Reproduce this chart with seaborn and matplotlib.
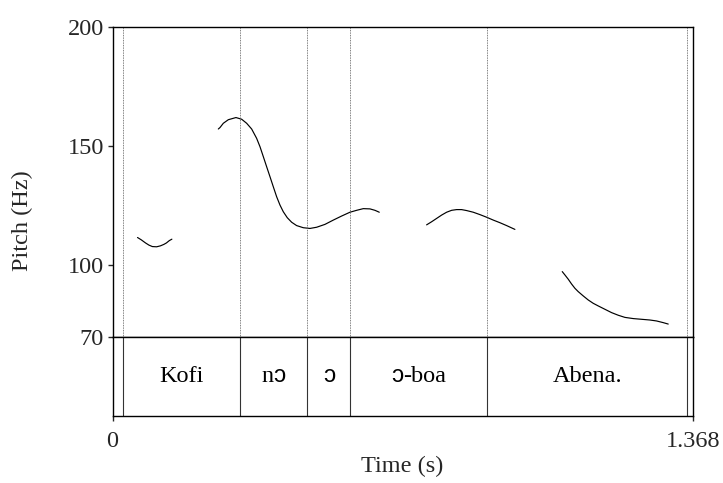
import matplotlib
matplotlib.use("Agg")
import matplotlib.pyplot as plt
from matplotlib.offsetbox import TextArea, HPacker, AnnotationBbox
import seaborn as sns
import pandas as pd

# Pitch track (time in s, F0 in Hz), one list pair per voiced stretch
seg1_t = [0.059, 0.068, 0.078, 0.086, 0.094, 0.104, 0.113, 0.121, 0.127, 0.134, 0.140]
seg1_hz = [111.6, 110.6, 109.3, 108.4, 107.8, 107.7, 108.1, 108.7, 109.3, 110.3, 110.9]

seg2_t = [0.2495, 0.2534, 0.2613, 0.2731, 0.2911, 0.3045, 0.3163, 0.3281, 0.3398,
          0.3477, 0.3556, 0.3634, 0.3713, 0.3791, 0.3870, 0.3949, 0.4027, 0.4121,
          0.4224, 0.4341, 0.4499, 0.4656, 0.4813, 0.5009, 0.5206, 0.5402, 0.5599,
          0.5756, 0.5913, 0.6070, 0.6188, 0.6290]
seg2_hz = [157.1, 157.7, 159.5, 161.0, 161.9, 161.2, 159.5, 157.1, 153.2,
           149.7, 145.5, 141.3, 137.1, 132.9, 128.7, 125.2, 122.4, 119.9,
           118.0, 116.6, 115.7, 115.4, 115.9, 117.1, 118.9, 120.6, 122.2,
           123.0, 123.7, 123.6, 123.0, 122.2]

seg3_t = [0.7406, 0.7524, 0.7642, 0.7760, 0.7878, 0.7996, 0.8113, 0.8231,
          0.8349, 0.8506, 0.8663, 0.8821, 0.8978, 0.9135, 0.9292, 0.9488]
seg3_hz = [116.9, 118.2, 119.6, 121.0, 122.2, 123.0, 123.3, 123.3,
           122.9, 122.2, 121.2, 120.1, 118.9, 117.8, 116.6, 115.0]

seg4_t = [1.0604, 1.0667, 1.0746, 1.0824, 1.0903, 1.0981, 1.1099, 1.1217, 1.1335,
          1.1453, 1.1610, 1.1767, 1.1924, 1.2082, 1.2278, 1.2474, 1.2671, 1.2828,
          1.2985, 1.3103]
seg4_hz = [97.3, 95.9, 94.1, 92.1, 90.3, 88.9, 87.1, 85.4, 84.0,
           82.9, 81.5, 80.1, 79.0, 78.1, 77.6, 77.3, 77.0, 76.6,
           75.9, 75.3]

# Word tier
boundaries = [0.024, 0.301, 0.459, 0.561, 0.883, 1.355]
words = ["Kofi", "nɔ", "ɔ", "ɔ-boa", "Abena."]

t_max = 1.368
f_min, f_max = 70, 200
y_ticks = [70, 100, 150, 200]

sns.set_style("white")
plt.rcParams["font.family"] = ["Liberation Serif", "DejaVu Sans"]
FS = 17.5

segments = [(seg1_t, seg1_hz), (seg2_t, seg2_hz), (seg3_t, seg3_hz), (seg4_t, seg4_hz)]
pitch = pd.concat(
    [pd.DataFrame({"time": t, "f0": f, "seg": i}) for i, (t, f) in enumerate(segments)],
    ignore_index=True,
)

W, H = 723, 483
fig = plt.figure(figsize=(W / 100, H / 100), dpi=100)
left, right = 112.5 / W, 692.7 / W
y_top, y_mid, y_bot = 1 - 26.7 / H, 1 - 336.7 / H, 1 - 415.7 / H
ax1 = fig.add_axes([left, y_mid, right - left, y_top - y_mid])
ax2 = fig.add_axes([left, y_bot, right - left, y_mid - y_bot])

lw = 1.0
# pitch panel
sns.lineplot(data=pitch, x="time", y="f0", units="seg", estimator=None,
             color="black", linewidth=0.85, ax=ax1, legend=False)
for b in boundaries:
    ax1.axvline(b, color="#555555", linewidth=0.6, linestyle=(0, (1, 1)))
ax1.set_xlim(0, t_max)
ax1.set_ylim(f_min, f_max)
ax1.set_xticks([])
ax1.set_yticks(y_ticks)
ax1.set_yticklabels([str(v) for v in y_ticks], fontsize=FS)
ax1.tick_params(axis="y", direction="out", length=3.6, width=lw, pad=2.7, left=True)
ax1.set_xlabel("")
ax1.set_ylabel("")
for s in ax1.spines.values():
    s.set_visible(True)
    s.set_color("black")
    s.set_linewidth(lw)

# tier panel
for b in boundaries:
    ax2.axvline(b, color="#333333", linewidth=0.8)
ax2.set_xlim(0, t_max)
ax2.set_ylim(0, 1)
ax2.set_yticks([])
ax2.set_xticks([0, t_max])
ax2.set_xticklabels(["0", "1.368"], fontsize=FS)
ax2.tick_params(axis="x", direction="out", length=3.6, width=lw, pad=7.2, bottom=True)
for s in ax2.spines.values():
    s.set_visible(True)
    s.set_color("black")
    s.set_linewidth(lw)

serif = dict(fontsize=FS, family="Liberation Serif", color="black")
sans = dict(fontsize=FS, family="Liberation Sans", color="black")


def label_box(text):
    runs = []
    cur, cur_sans = "", None
    for ch in text:
        is_sans = ch == "ɔ"
        if cur and is_sans != cur_sans:
            runs.append((cur, cur_sans))
            cur = ""
        cur += ch
        cur_sans = is_sans
    if cur:
        runs.append((cur, cur_sans))
    parts = [TextArea(r, textprops=sans if s else serif) for r, s in runs]
    return HPacker(children=parts, pad=0, sep=0, align="baseline")


for (a, b), w in zip(zip(boundaries[:-1], boundaries[1:]), words):
    ab = AnnotationBbox(label_box(w), ((a + b) / 2, 0.5), xycoords="data",
                        frameon=False, box_alignment=(0.5, 0.5), pad=0)
    ax2.add_artist(ab)

fig.text(22 / W, 1 - 221 / H, "Pitch (Hz)", rotation=90, ha="center", va="center", fontsize=FS)
fig.text((112.5 + 692.7) / 2 / W, 1 - 466 / H, "Time (s)", ha="center", va="center", fontsize=FS)

fig.savefig("out.png", dpi=100, facecolor="white")
